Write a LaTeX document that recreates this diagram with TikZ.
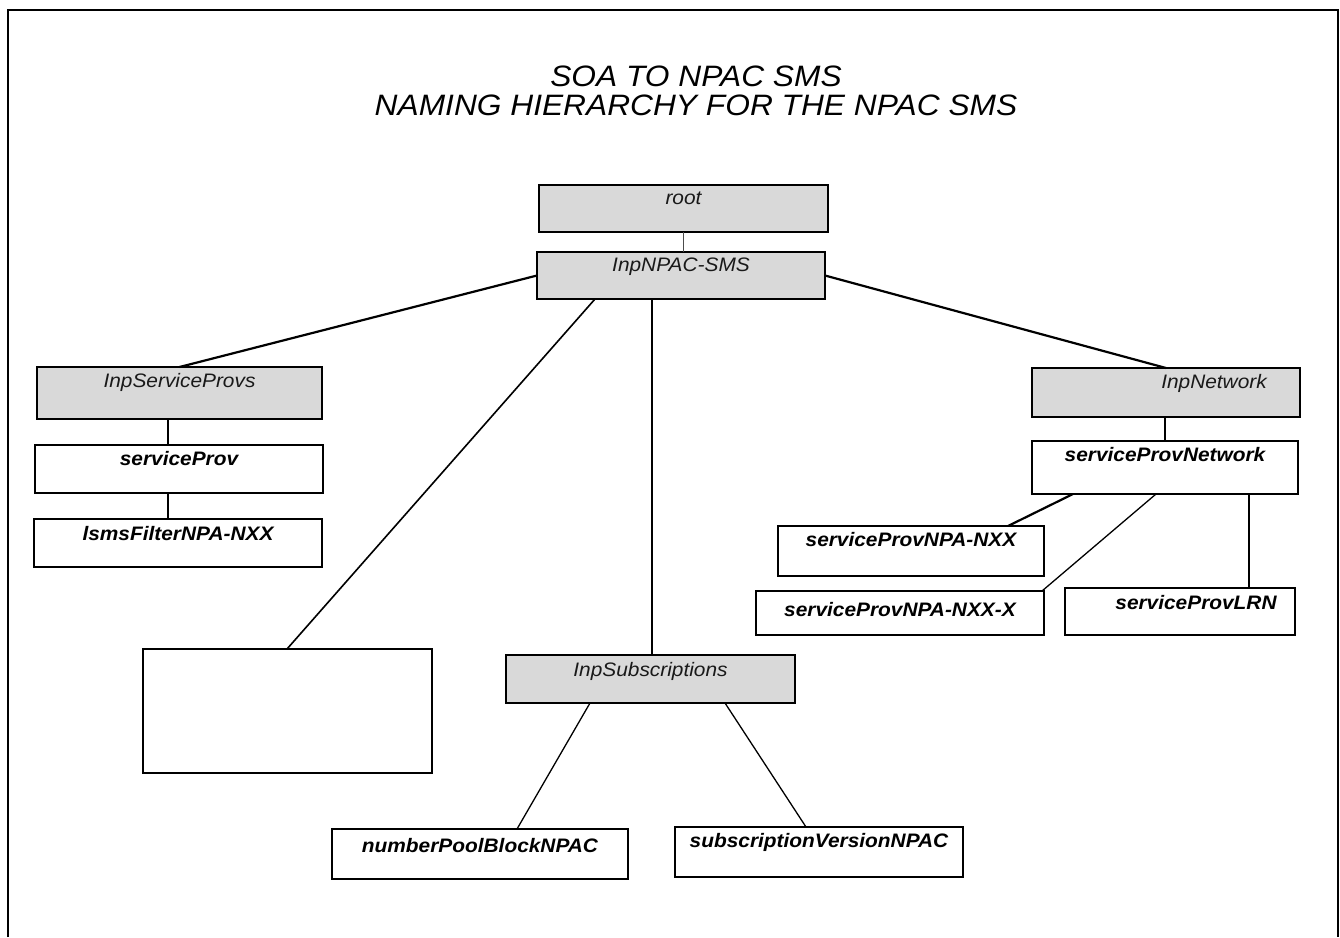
\documentclass[tikz,border=0pt]{standalone}
\usepackage{fontspec}
\setmainfont{Liberation Sans}
\newfontfamily\lblfont{Liberation Sans}[FakeStretch=1.07]
\newfontfamily\ttlfont{Liberation Sans}[FakeStretch=1.075]
\definecolor{boxgray}{RGB}{217,217,217}
\definecolor{txtgray}{RGB}{25,25,25}
\begin{document}
\begin{tikzpicture}[x=1pt,y=-1pt,
  box/.style={draw=black, inner sep=0pt, outer sep=0pt},
  gbox/.style={box, fill=boxgray, line width=1.5pt},
  bbox/.style={box, fill=white, line width=2.3pt},
  tbox/.style={box, fill=white, line width=1.4pt},
  glbl/.style={anchor=base, inner sep=0pt, font=\lblfont\fontsize{19.5}{21}\selectfont\itshape, text=txtgray},
  blbl/.style={anchor=base, inner sep=0pt, font=\lblfont\fontsize{19.5}{21}\selectfont\bfseries\itshape, text=black},
  ttl/.style={anchor=base, inner sep=0pt, font=\ttlfont\fontsize{29.5}{31}\selectfont\itshape},
  thick line/.style={line width=2.2pt},
  mid line/.style={line width=1.6pt},
  thin line/.style={line width=1.3pt},
]
\useasboundingbox (0,0) rectangle (1340,937);
% frame
\draw[line width=2pt] (8,937) -- (8,10) -- (1338,10) -- (1338,937);
% title
\node[ttl] (t1) at (696,86) {SOA TO NPAC SMS};
\node[ttl] (t2) at (696,115) {NAMING HIERARCHY FOR THE NPAC SMS};

% boxes
\node[gbox, minimum width=289, minimum height=47] (root) at (683.5,208.5) {};
\node[gbox, minimum width=288, minimum height=47] (npac) at (681,275.5) {};
\node[gbox, minimum width=285, minimum height=52] (isp) at (179.5,393) {};
\node[bbox, minimum width=288, minimum height=48] (sp) at (179,469) {};
\node[tbox, minimum width=288, minimum height=48] (lsms) at (178,543) {};
\node[gbox, minimum width=268, minimum height=49] (inet) at (1166,392.5) {};
\node[bbox, minimum width=266, minimum height=53] (spn) at (1165,467.5) {};
\node[bbox, minimum width=266, minimum height=50] (npanxx) at (911,551) {};
\node[tbox, minimum width=288, minimum height=44] (npanxxx) at (900,613) {};
\node[bbox, minimum width=230, minimum height=47] (lrn) at (1180,611.5) {};
\node[box, fill=white, line width=1.8pt, minimum width=289, minimum height=124] (empty) at (287.5,711) {};
\node[gbox, minimum width=289, minimum height=48] (isub) at (650.5,679) {};
\node[bbox, minimum width=296, minimum height=50] (npb) at (480,854) {};
\node[tbox, minimum width=288, minimum height=50] (svn) at (819,852) {};

% labels
\node[glbl] (rootL) at ([yshift=-19pt]root.north) {root};
\node[glbl] (npacL) at ([yshift=-19pt]npac.north) {InpNPAC-SMS};
\node[glbl] (ispL) at ([yshift=-20pt]isp.north) {InpServiceProvs};
\node[blbl] (spL) at ([yshift=-20pt]sp.north) {serviceProv};
\node[blbl] (lsmsL) at ([yshift=-21pt]lsms.north) {lsmsFilterNPA-NXX};
\node[glbl] (inetL) at ([xshift=48pt,yshift=-20pt]inet.north) {InpNetwork};
\node[blbl] (spnL) at ([yshift=-20pt]spn.north) {serviceProvNetwork};
\node[blbl] (npanxxL) at ([yshift=-20pt]npanxx.north) {serviceProvNPA-NXX};
\node[blbl] (npanxxxL) at ([yshift=-25pt]npanxxx.north) {serviceProvNPA-NXX-X};
\node[blbl] (lrnL) at ([xshift=16pt,yshift=-21pt]lrn.north) {serviceProvLRN};
\node[glbl] (isubL) at ([yshift=-21pt]isub.north) {InpSubscriptions};
\node[blbl] (npbL) at ([yshift=-23pt]npb.north) {numberPoolBlockNPAC};
\node[blbl] (svnL) at ([yshift=-20pt]svn.north) {subscriptionVersionNPAC};

% connectors
\draw[line width=0.9pt, draw=black!70] (root.south) -- (root.south |- npac.north);
\draw[thick line] (npac.west) -- (isp.north);
\draw[thick line] (npac.east) -- (inet.north);
\draw[mid line] ([xshift=-86pt]npac.south) -- ([xshift=-0.5pt]empty.north);
\draw[mid line] ([xshift=1.5pt]isub.north) -- ([xshift=1.5pt]isub.north |- npac.south);
\draw[thick line] ([xshift=-11.5pt]isp.south) -- ([xshift=-11.5pt]isp.south |- sp.north);
\draw[thick line] ([xshift=-11pt]sp.south) -- ([xshift=-11pt]sp.south |- lsms.north);
\draw[thick line] (spn.north) -- (spn.north |- inet.south);
\draw[thick line] ([xshift=-92pt]spn.south) -- ([xshift=97pt]npanxx.north);
\draw[thin line] ([xshift=-9pt]spn.south) -- ([xshift=-2pt]npanxxx.north east);
\draw[mid line] ([xshift=84pt]spn.south) -- ([xshift=84pt]spn.south |- lrn.north);
\draw[thin line] ([xshift=-60.5pt]isub.south) -- ([xshift=37pt]npb.north);
\draw[thin line] ([xshift=74.5pt]isub.south) -- ([xshift=-13pt]svn.north);
\end{tikzpicture}
\end{document}
